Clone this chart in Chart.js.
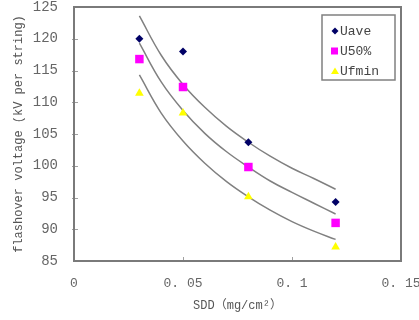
<!DOCTYPE html>
<html>
<head>
<meta charset="utf-8">
<script src="https://cdn.jsdelivr.net/npm/chart.js@4.4.0/dist/chart.umd.min.js"></script>
<style>
  html, body { margin: 0; padding: 0; background: #fff; }
  canvas { display: block; }
</style>
</head>
<body>
<canvas id="chart" width="419" height="320"></canvas>
<script>
// measured points
const sdd = [0.03, 0.05, 0.08, 0.12];
const uave = [120.0, 118.0, 103.7, 94.3];
const u50 = [116.8, 112.4, 99.8, 91.0];
const ufmin = [111.4, 108.3, 95.1, 87.2];

// fitted curves
const trendSdd = [0.03, 0.04, 0.05, 0.06, 0.07, 0.08, 0.09, 0.10, 0.11, 0.12];
const trendTop = [123.6, 117.4, 112.8, 109.2, 106.2, 103.7, 101.5, 99.6, 98.0, 96.3];
const trendMid = [119.3, 113.2, 108.7, 105.1, 102.2, 99.8, 97.6, 95.8, 94.1, 92.4];
const trendLow = [114.3, 108.3, 103.9, 100.4, 97.5, 95.1, 93.0, 91.2, 89.7, 88.4];

const xTickLabels = ['0', '0. 05', '0. 1', '0. 15'];
const legendLabels = ['Uave', 'U50%', 'Ufmin'];

const pts = (xs, ys) => xs.map((x, i) => ({ x: x, y: ys[i] }));
const mono = '"Liberation Mono", "Noto Sans CJK SC", monospace';

const trendStyle = {
  showLine: true,
  borderColor: '#808080',
  borderWidth: 1.5,
  pointRadius: 0,
  tension: 0.4,
  fill: false
};

// frame + inner tick marks
const framePlugin = {
  id: 'frame',
  beforeDatasetsDraw(chart) {
    const { ctx, chartArea: a, scales } = chart;
    ctx.save();
    ctx.strokeStyle = '#a0a0a0';
    ctx.lineWidth = 1;
    ctx.beginPath();
    for (let v = 90; v < 125; v += 5) {
      const y = Math.round(scales.y.getPixelForValue(v)) + 0.5;
      ctx.moveTo(a.left - 2, y);
      ctx.lineTo(a.left + 4, y);
    }
    [0.05, 0.1].forEach(v => {
      const x = Math.round(scales.x.getPixelForValue(v)) + 0.5;
      ctx.moveTo(x, a.bottom);
      ctx.lineTo(x, a.bottom - 4);
    });
    ctx.stroke();
    ctx.strokeStyle = '#7a7a7a';
    ctx.lineWidth = 2;
    ctx.strokeRect(a.left, a.top, a.right - a.left, a.bottom - a.top);
    ctx.restore();
  }
};

// boxed legend inside plot, top right
const legendBox = {
  id: 'legendBox',
  afterDraw(chart) {
    const ctx = chart.ctx;
    const x0 = 322, y0 = 15, w = 73, h = 65;
    ctx.save();
    ctx.fillStyle = '#fff';
    ctx.fillRect(x0, y0, w, h);
    ctx.strokeStyle = '#808080';
    ctx.lineWidth = 1.5;
    ctx.strokeRect(x0, y0, w, h);
    ctx.font = '13px ' + mono;
    ctx.textBaseline = 'middle';
    const rows = [31, 51, 71];
    const mx = 335;
    rows.forEach((y, i) => {
      ctx.beginPath();
      if (i === 0) {
        ctx.fillStyle = '#000066';
        ctx.moveTo(mx, y - 3.5); ctx.lineTo(mx + 3.5, y); ctx.lineTo(mx, y + 3.5); ctx.lineTo(mx - 3.5, y);
        ctx.closePath(); ctx.fill();
      } else if (i === 1) {
        ctx.fillStyle = '#ff00ff';
        ctx.fillRect(mx - 4, y - 3.5, 7, 7);
      } else {
        ctx.fillStyle = '#ffff00';
        ctx.moveTo(mx, y - 3.5); ctx.lineTo(mx + 4, y + 3); ctx.lineTo(mx - 4, y + 3);
        ctx.closePath(); ctx.fill();
      }
      ctx.fillStyle = '#444';
      ctx.fillText(legendLabels[i], mx + 5, y + 1);
    });
    ctx.restore();
  }
};

new Chart(document.getElementById('chart'), {
  type: 'scatter',
  data: {
    datasets: [
      { label: legendLabels[0], data: pts(sdd, uave), pointStyle: 'rectRot', pointRadius: 4, backgroundColor: '#000066', borderColor: '#000066', borderWidth: 0 },
      { label: legendLabels[1], data: pts(sdd, u50), pointStyle: 'rect', pointRadius: 6, backgroundColor: '#ff00ff', borderColor: '#ff00ff', borderWidth: 0 },
      { label: legendLabels[2], data: pts(sdd, ufmin), pointStyle: 'triangle', pointRadius: 5, backgroundColor: '#ffff00', borderColor: '#ffff00', borderWidth: 0 },
      Object.assign({ label: 'fit1', data: pts(trendSdd, trendTop) }, trendStyle),
      Object.assign({ label: 'fit2', data: pts(trendSdd, trendMid) }, trendStyle),
      Object.assign({ label: 'fit3', data: pts(trendSdd, trendLow) }, trendStyle)
    ]
  },
  options: {
    responsive: false,
    animation: false,
    layout: { padding: { top: 7, right: 18, left: 0, bottom: 0 } },
    plugins: {
      legend: { display: false },
      tooltip: { enabled: false }
    },
    scales: {
      x: {
        type: 'linear',
        min: 0, max: 0.15,
        grid: { display: false },
        border: { display: false },
        ticks: {
          stepSize: 0.05,
          padding: 7,
          color: '#666',
          font: { family: mono, size: 13 },
          callback: (v) => {
            const i = Math.round(v / 0.05);
            return xTickLabels[i];
          }
        },
        title: {
          display: true,
          text: 'SDD（mg/cm²）',
          color: '#555',
          font: { family: mono, size: 12 },
          padding: { top: 0, bottom: 7 }
        },
        afterFit: (s) => { s.height = 59; s.paddingLeft = 0; s.paddingRight = 0; }
      },
      y: {
        min: 85, max: 125,
        grid: { display: false },
        border: { display: false },
        ticks: {
          stepSize: 5,
          padding: 8,
          color: '#666',
          font: { family: mono, size: 14 }
        },
        title: {
          display: true,
          text: 'flashover voltage (kV per string)',
          color: '#555',
          font: { family: mono, size: 12 },
          padding: { top: 12, bottom: 0 }
        },
        afterFit: (s) => { s.width = 74; s.paddingTop = 0; s.paddingBottom = 0; }
      }
    }
  },
  plugins: [framePlugin, legendBox]
});
</script>
</body>
</html>
